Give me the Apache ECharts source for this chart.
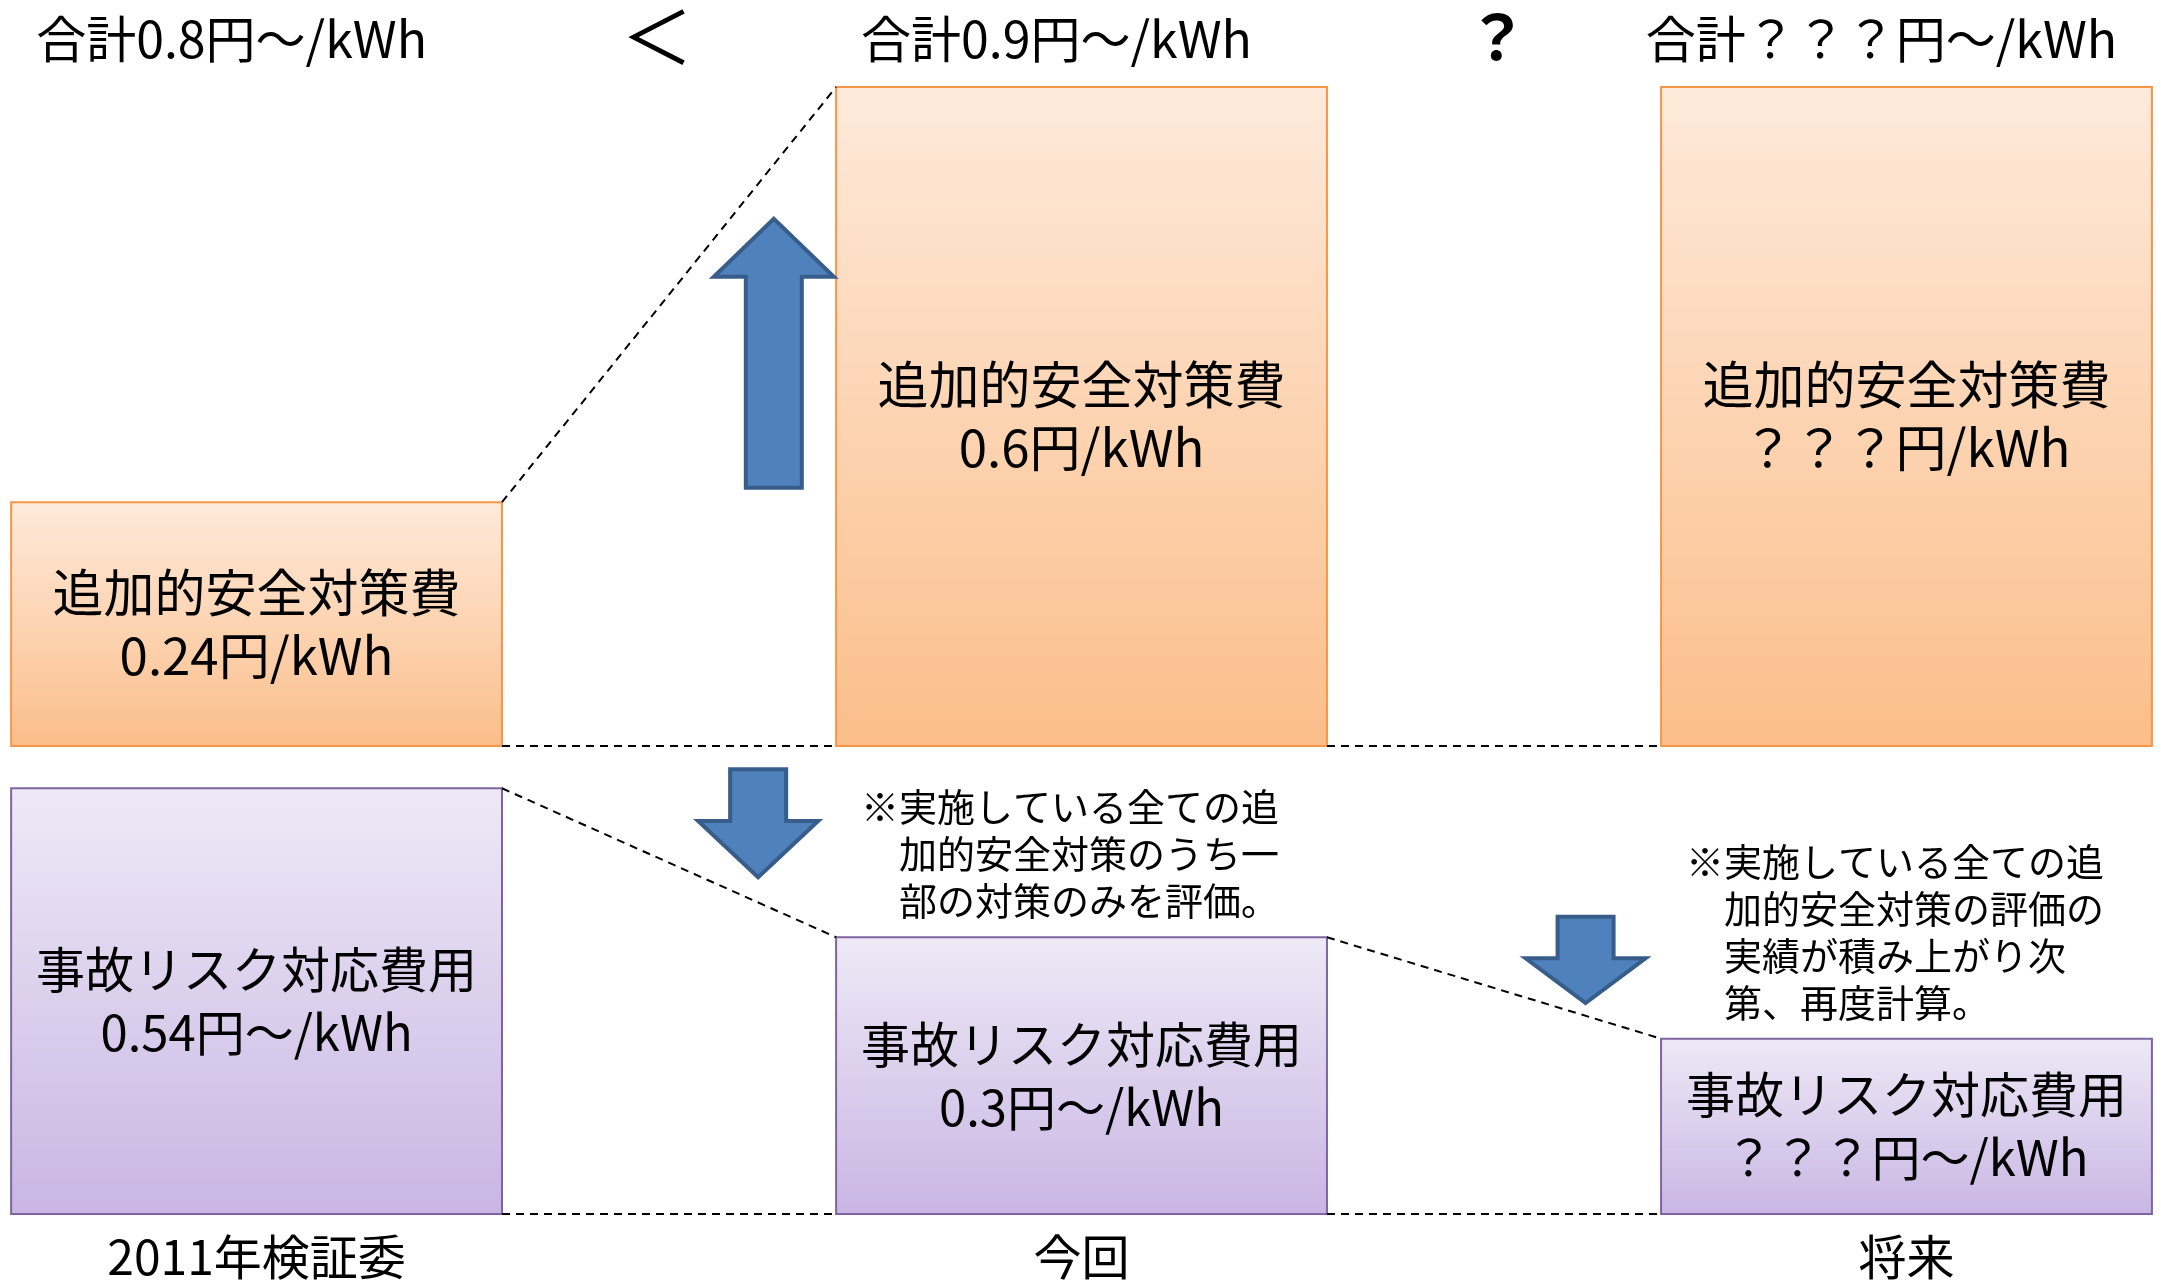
<!DOCTYPE html>
<html>
<head>
<meta charset="utf-8">
<title>追加的安全対策費と事故リスク対応費用</title>
<script src="https://cdn.jsdelivr.net/npm/echarts@6/dist/echarts.min.js"></script>
<style>
    html, body { margin: 0; padding: 0; background: #ffffff; }
    #main { width: 2161px; height: 1282px; }
</style>
</head>
<body>
<div id="main"></div>
<script>
// 列（比較対象）
var columns = ['2011年検証委', '今回', '将来'];
var totalLabels = ['合計0.8円～/kWh', '合計0.9円～/kWh', '合計？？？円～/kWh'];
var compareMarks = ['＜', '？'];          // 列と列の間の記号

// 上段：追加的安全対策費（箱の高さは図から読んだ相対値、最大の箱 = 1）
var safetyTitle = '追加的安全対策費';
var safetyHeight = [0.37, 1.0, 1.0];
var safetyValue = ['0.24円/kWh', '0.6円/kWh', '？？？円/kWh'];

// 下段：事故リスク対応費用
var riskTitle = '事故リスク対応費用';
var riskHeight = [0.646, 0.42, 0.266];
var riskValue = ['0.54円～/kWh', '0.3円～/kWh', '？？？円～/kWh'];

// 注記（下段の箱の左上に付く）
var notes = [
    '',
    '※実施している全ての追\n　加的安全対策のうち一\n　部の対策のみを評価。',
    '※実施している全ての追\n　加的安全対策の評価の\n　実績が積み上がり次\n　第、再度計算。'
];

// 矢印 [x, 始点, 終点]（各段の座標）
var upArrows = [[0.627, 0.392, 0.800]];
var downArrows = [[0.608, 0.675, 0.511], [1.611, 0.451, 0.320]];

var FONT = "'Noto Sans CJK JP', 'Noto Sans', sans-serif";
var BAR_RATIO = 0.595;   // 箱の幅（列間隔に対する比）

var chart = echarts.init(document.getElementById('main'));

function range(n) {
    var a = [];
    for (var i = 0; i < n; i++) a.push(i);
    return a;
}

// 箱の描画
function makeBoxRender(stops, stroke, title, values, fontSize) {
    return function (params, api) {
        var i = api.value(0), h = api.value(1);
        var w = api.size([1, 0])[0] * BAR_RATIO;
        var top = api.coord([i, h]);
        var base = api.coord([i, 0]);
        return {
            type: 'group',
            children: [{
                type: 'rect',
                shape: { x: top[0] - w / 2, y: top[1], width: w, height: base[1] - top[1] },
                style: {
                    fill: new echarts.graphic.LinearGradient(0, 0, 0, 1, stops),
                    stroke: stroke,
                    lineWidth: 2
                }
            }, {
                type: 'text',
                style: {
                    text: title + '\n' + values[params.dataIndex],
                    x: top[0],
                    y: (top[1] + base[1]) / 2,
                    align: 'center',
                    verticalAlign: 'middle',
                    font: fontSize + 'px ' + FONT,
                    lineHeight: 63,
                    fill: '#000'
                }
            }]
        };
    };
}

// 点線（高さが変わる箱の角どうし、基準線）
function connectorData(heights) {
    var half = BAR_RATIO / 2, segs = [];
    for (var i = 0; i < heights.length - 1; i++) {
        if (heights[i] !== heights[i + 1]) {
            segs.push([i + half, heights[i], i + 1 - half, heights[i + 1]]);
        }
        segs.push([i + half, 0, i + 1 - half, 0]);
    }
    return segs;
}

function renderConnector(params, api) {
    var p1 = api.coord([api.value(0), api.value(1)]);
    var p2 = api.coord([api.value(2), api.value(3)]);
    return {
        type: 'line',
        shape: { x1: p1[0], y1: p1[1], x2: p2[0], y2: p2[1] },
        style: { stroke: '#000', lineWidth: 2, lineDash: [8, 6] }
    };
}

// ブロック矢印
function renderArrow(params, api) {
    var tail = api.coord([api.value(0), api.value(1)]);
    var tip = api.coord([api.value(0), api.value(2)]);
    var dir = tip[1] < tail[1] ? -1 : 1;
    var len = Math.abs(tip[1] - tail[1]);
    var head = Math.min(58, len * 0.52);
    var x = tail[0], sw = 28, hw = 60;
    var neck = tip[1] - dir * head;
    return {
        type: 'polygon',
        shape: {
            points: [[x - sw, tail[1]], [x - sw, neck], [x - hw, neck], [x, tip[1]],
                     [x + hw, neck], [x + sw, neck], [x + sw, tail[1]]]
        },
        style: { fill: '#4F81BD', stroke: '#385D8A', lineWidth: 4, lineJoin: 'miter' }
    };
}

// 上の合計ラベル
function renderTotal(params, api) {
    var p = api.coord([api.value(0), 1]);
    return {
        type: 'text',
        style: {
            text: totalLabels[params.dataIndex],
            x: p[0] - 25, y: p[1] - 48,
            align: 'center', verticalAlign: 'middle',
            font: '50px ' + FONT, fill: '#000'
        }
    };
}

// 列間の記号
function renderMark(params, api) {
    var p = api.coord([api.value(0), 1]);
    var bold = params.dataIndex === 1;
    return {
        type: 'text',
        style: {
            text: compareMarks[params.dataIndex],
            x: p[0] + (bold ? 3 : -12), y: p[1] - 50,
            align: 'center', verticalAlign: 'middle',
            font: (bold ? 'bold 62px ' : '72px ') + FONT, fill: '#000'
        }
    };
}

// 下の列名
function renderName(params, api) {
    var p = api.coord([api.value(0), 0]);
    return {
        type: 'text',
        style: {
            text: columns[params.dataIndex],
            x: p[0], y: p[1] + 43,
            align: 'center', verticalAlign: 'middle',
            font: '48px ' + FONT, fill: '#000'
        }
    };
}

// 注記
function renderNote(params, api) {
    var text = notes[params.dataIndex];
    if (!text) return null;
    var w = api.size([1, 0])[0] * BAR_RATIO;
    var p = api.coord([api.value(0), api.value(1)]);
    return {
        type: 'text',
        style: {
            text: text,
            x: p[0] - w / 2 + 25, y: p[1] - 13,
            align: 'left', verticalAlign: 'bottom',
            font: '38px ' + FONT, lineHeight: 47, fill: '#000'
        }
    };
}

function pairs(heights) {
    return heights.map(function (h, i) { return [i, h]; });
}

var xRange = { min: -0.311, max: 2.3085 };

var option = {
    animation: false,
    backgroundColor: '#ffffff',
    grid: [
        { left: 0, right: 0, top: 87, height: 659 },
        { left: 0, right: 0, top: 555, height: 659 }
    ],
    xAxis: [
        { type: 'value', gridIndex: 0, min: xRange.min, max: xRange.max, show: false },
        { type: 'value', gridIndex: 1, min: xRange.min, max: xRange.max, show: false }
    ],
    yAxis: [
        { type: 'value', gridIndex: 0, min: 0, max: 1, show: false },
        { type: 'value', gridIndex: 1, min: 0, max: 1, show: false }
    ],
    series: [
        {
            type: 'custom', name: safetyTitle, xAxisIndex: 0, yAxisIndex: 0, clip: false,
            renderItem: makeBoxRender([
                { offset: 0, color: '#FEEADB' },
                { offset: 1, color: '#FBBE8A' }
            ], '#F79646', safetyTitle, safetyValue, 51),
            data: pairs(safetyHeight)
        },
        {
            type: 'custom', name: riskTitle, xAxisIndex: 1, yAxisIndex: 1, clip: false,
            renderItem: makeBoxRender([
                { offset: 0, color: '#EEE9F6' },
                { offset: 1, color: '#C9B6E4' }
            ], '#8064A2', riskTitle, riskValue, 49),
            data: pairs(riskHeight)
        },
        {
            type: 'custom', xAxisIndex: 0, yAxisIndex: 0, clip: false,
            renderItem: renderConnector, data: connectorData(safetyHeight)
        },
        {
            type: 'custom', xAxisIndex: 1, yAxisIndex: 1, clip: false,
            renderItem: renderConnector, data: connectorData(riskHeight)
        },
        {
            type: 'custom', xAxisIndex: 0, yAxisIndex: 0, clip: false,
            renderItem: renderArrow, data: upArrows
        },
        {
            type: 'custom', xAxisIndex: 1, yAxisIndex: 1, clip: false,
            renderItem: renderArrow, data: downArrows
        },
        {
            type: 'custom', xAxisIndex: 0, yAxisIndex: 0, clip: false,
            renderItem: renderTotal, data: range(columns.length).map(function (i) { return [i]; })
        },
        {
            type: 'custom', xAxisIndex: 0, yAxisIndex: 0, clip: false,
            renderItem: renderMark, data: range(compareMarks.length).map(function (i) { return [i + 0.5]; })
        },
        {
            type: 'custom', xAxisIndex: 1, yAxisIndex: 1, clip: false,
            renderItem: renderName, data: range(columns.length).map(function (i) { return [i]; })
        },
        {
            type: 'custom', xAxisIndex: 1, yAxisIndex: 1, clip: false,
            renderItem: renderNote, data: pairs(riskHeight)
        }
    ]
};

chart.setOption(option);
</script>
</body>
</html>
